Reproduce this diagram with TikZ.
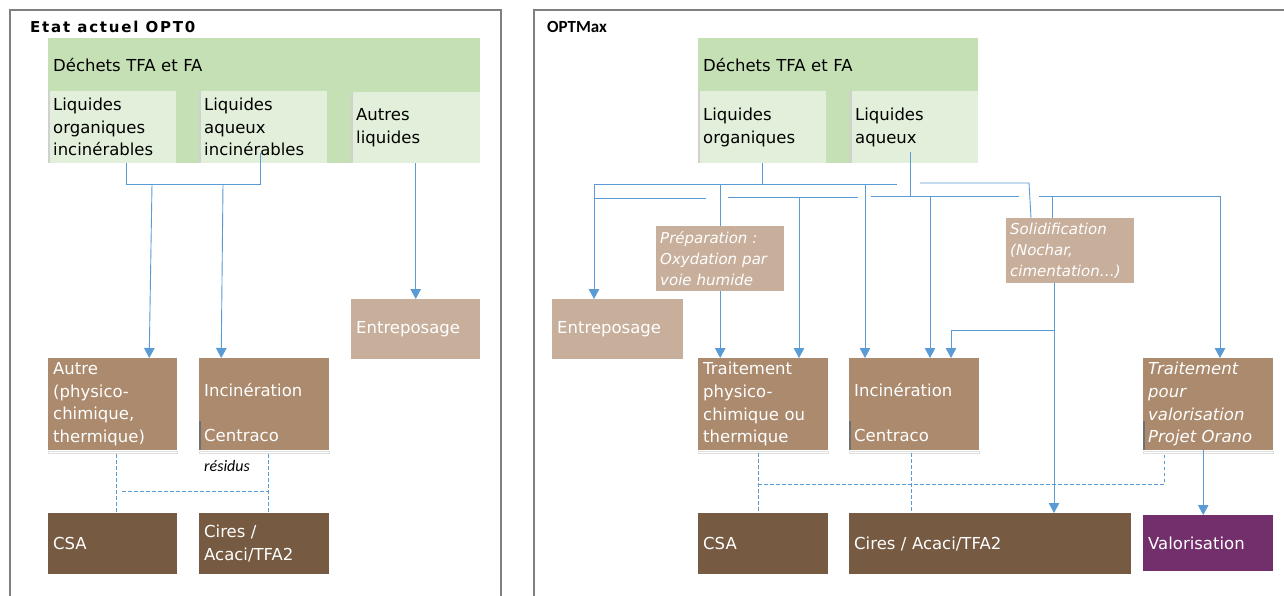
\documentclass[tikz,border=0pt]{standalone}
\usepackage{fontspec}
\setmainfont{DejaVu Sans}
\newfontfamily\carlito{Carlito}
\usetikzlibrary{arrows.meta,calc}

\definecolor{hdrgreen}{HTML}{C5E0B4}
\definecolor{subgreen}{HTML}{E2EFDA}
\definecolor{paletan}{HTML}{C8AF9C}
\definecolor{midbrown}{HTML}{AB8A6E}
\definecolor{darkbrown}{HTML}{765A42}
\definecolor{plum}{HTML}{722F6C}
\definecolor{linkblue}{HTML}{5B9BD5}
\definecolor{panelgray}{HTML}{808080}
\definecolor{stripegray}{HTML}{D0D0D0}
\definecolor{edgegray}{HTML}{707070}

\newcommand\bodysize{\fontsize{16.5}{22.6}\selectfont}
\newcommand\notesize{\fontsize{15}{21.3}\selectfont}

\tikzset{
  boxbase/.style n args={3}{rectangle, anchor=north west, inner xsep=5pt, inner ysep=0pt,
     minimum width=#1, minimum height=#2, text width=#3, align=left},
  hdrbox/.style n args={3}{boxbase={#1}{#2}{#3}, fill=hdrgreen, font=\bodysize},
  subbox/.style n args={3}{boxbase={#1}{#2}{#3}, fill=subgreen, font=\bodysize},
  tanbox/.style n args={3}{boxbase={#1}{#2}{#3}, fill=paletan, text=white, font=\bodysize},
  notebox/.style n args={3}{boxbase={#1}{#2}{#3}, fill=paletan, text=white, font=\notesize\itshape},
  midbox/.style n args={3}{boxbase={#1}{#2}{#3}, fill=midbrown, text=white, font=\bodysize},
  darkbox/.style n args={3}{boxbase={#1}{#2}{#3}, fill=darkbrown, text=white, font=\bodysize},
  plumbox/.style n args={3}{boxbase={#1}{#2}{#3}, fill=plum, text=white, font=\bodysize},
  conn/.style={draw=linkblue, line width=0.9pt},
  arr/.style={conn, -{Triangle[width=10.5pt,length=10pt]}},
  dashline/.style={draw=linkblue, line width=0.9pt, dash pattern=on 3.5pt off 2.5pt},
  panel/.style={draw=panelgray, line width=2pt},
  paneltitle/.style={anchor=base west, inner sep=0pt},
  shelf/.style={draw=black!12, line width=0.6pt, fill=white},
  lightstripe/.style={draw=stripegray, line width=2pt},
  darkstripe/.style={draw=edgegray, line width=2pt},
}

\begin{document}
\begin{tikzpicture}[x=1pt,y=-1pt]
\useasboundingbox (0,0) rectangle (1284,595);
\clip (0,0) rectangle (1284,595);
\fill[white] (0,0) rectangle (1284,595);

% the two panel frames
\draw[panel] (10,605) -- (10,10) -- (501,10) -- (501,605);
\draw[panel] (534,605) -- (534,10) -- (1290,10);
\node[paneltitle, font=\fontsize{15}{18}\selectfont\bfseries\addfontfeature{LetterSpace=12}] (titleL) at (30,32.7) {Etat actuel OPT0};
\node[paneltitle, font=\carlito\bfseries\fontsize{17}{20}\selectfont] (titleR) at (547,32.7) {OPTMax};

% ---------- left panel : current state ----------
\node[hdrbox={432pt}{53pt}{422pt}] (dechL) at (48,38) {Déchets TFA et FA};
\fill[hdrgreen] (48,91) rectangle (480,163);
\node[subbox={128pt}{72pt}{118pt}] (orgL) at (48,91) {Liquides\\organiques\\incinérables};
\node[subbox={128pt}{72pt}{118pt}] (aqL) at (199,91) {Liquides\\aqueux\\incinérables};
\node[subbox={129pt}{71pt}{119pt}] (autL) at (351,92) {Autres\\liquides};

\node[tanbox={129pt}{60pt}{119pt}] (entL) at (351,299) {Entreposage};
\node[midbox={129pt}{92pt}{119pt}] (autreL) at (48,358) {Autre\\(physico-\\chimique,\\thermique)};
\node[midbox={130pt}{92pt}{120pt}] (incL) at (199,358) {\rule{0pt}{38.5pt}Incinération\\[22.6pt]Centraco\rule[-8.3pt]{0pt}{0pt}};
\node[darkbox={129pt}{61pt}{119pt}] (csaL) at (48,513) {CSA};
\node[darkbox={130pt}{61pt}{120pt}] (ciresL) at (199,513) {Cires /\\Acaci/TFA2};
\node[anchor=base west, inner sep=0pt, font=\carlito\itshape\fontsize{16}{19}\selectfont] (residus) at (204,471.5) {résidus};

% ---------- right panel : OPTMax ----------
\node[hdrbox={280pt}{53pt}{270pt}] (dechR) at (698,38) {Déchets TFA et FA};
\fill[hdrgreen] (698,91) rectangle (978,163);
\node[subbox={128pt}{72pt}{118pt}] (orgR) at (698,91) {Liquides\\organiques};
\node[subbox={128pt}{72pt}{118pt}] (aqR) at (850,91) {Liquides\\aqueux};

\node[tanbox={131pt}{60pt}{121pt}] (entR) at (552,299) {Entreposage};
\node[notebox={128pt}{65pt}{120pt}, inner xsep=4pt] (prep) at (656,226) {Préparation :\\Oxydation par\\voie humide};
\node[notebox={128pt}{65pt}{120pt}, inner xsep=4pt] (solid) at (1006,218) {Solidification\\(Nochar,\\cimentation…)};

\node[midbox={130pt}{92pt}{120pt}] (traitR) at (698,358) {Traitement\\physico-\\chimique ou\\thermique};
\node[midbox={130pt}{92pt}{120pt}] (incR) at (849,358) {\rule{0pt}{38.5pt}Incinération\\[22.6pt]Centraco\rule[-8.3pt]{0pt}{0pt}};
\node[midbox={130pt}{92pt}{120pt}, font=\bodysize\itshape] (valT) at (1143,358) {Traitement\\pour\\valorisation\\Projet Orano};

\node[darkbox={130pt}{61pt}{120pt}] (csaR) at (698,513) {CSA};
\node[darkbox={282pt}{61pt}{272pt}] (ciresR) at (849,513) {Cires / Acaci/TFA2};
\node[plumbox={130pt}{56pt}{120pt}] (valo) at (1143,515) {Valorisation};

% box trims
\foreach \n in {orgL,aqL,autL,orgR,aqR}
  \draw[lightstripe] ($(\n.north west)+(1,0)$) -- ($(\n.south west)+(1,0)$);
\foreach \n in {incL,incR,valT}
  \draw[darkstripe] ($(\n.south west)+(1,-29)$) -- ($(\n.south west)+(1,0)$);
\foreach \n in {autreL,incL,traitR,incR,valT}
  \draw[shelf] ($(\n.south west)+(0,0.5)$) rectangle ($(\n.south east)+(0,3)$);

% ---------- left connectors ----------
\coordinate (jOrgL) at (126,184);
\coordinate (jAqL)  at (260,184);
\coordinate (aqLtap) at (260,153);
\coordinate (jL1) at (152,184);
\coordinate (jL2) at (223,184);
\draw[conn] (jOrgL |- orgL.south) -- (jOrgL) -- (jAqL) -- (aqLtap);
\draw[arr] (jL1) -- ($(autreL.north)+(36.5,0)$);
\draw[arr] (jL2) -- ($(incL.north)+(-43,0)$);
\draw[arr] (autL.south) -- (entL.north);

\coordinate (dL1) at (122,491);
\coordinate (dL2) at (268,491);
\draw[dashline] ($(autreL.south)+(3.5,4)$) -- ($(csaL.north)+(3.5,0)$);
\draw[dashline] ($(incL.south)+(4,4)$) -- ($(ciresL.north)+(4,0)$);
\draw[dashline] (dL1) -- (dL2);

% ---------- right connectors ----------
\coordinate (rA) at (594,184);
\coordinate (rB) at (897,184);
\coordinate (rC) at (594,198);
\coordinate (rD) at (706,198);
\coordinate (rE) at (728,197);
\coordinate (rF) at (858,197);
\coordinate (rG) at (871,196);
\coordinate (rH) at (1019,196);
\coordinate (rI) at (920,183);
\coordinate (rJ) at (1029,183);
\coordinate (rK) at (1039,196);
\coordinate (rL) at (1220,196);
\coordinate (rM) at (1054,330);
\coordinate (rN) at (951,330);
\coordinate (rP) at (799,197);
\coordinate (rQ) at (865,184);
\coordinate (rR) at (930,196);
\coordinate (rS) at (1052,196);
\coordinate (aqRtap) at (910,152);

\draw[conn] (orgR.south) -- (orgR.south |- rA);
\draw[conn] (rA) -- (rB);
\draw[conn] (rC) -- (rD);
\draw[conn] (rE) -- (rF);
\draw[conn] (aqRtap) -- (aqRtap |- rG);
\draw[conn] (rG) -- (rH);
\draw[conn] (rK) -- (rL);

\draw[arr] (rA) -- (rA |- entR.north);
\draw[conn] (prep.north |- rA) -- (prep.north);
\draw[arr] (prep.south) -- (prep.south |- traitR.north);
\draw[arr] (rP) -- (rP |- traitR.north);
\draw[arr] (rQ) -- (rQ |- incR.north);
\draw[arr] (rR) -- (rR |- incR.north);
\draw[conn] (rI) -- (rJ) -- ($(rJ |- solid.north)+(2,0)$);
\draw[conn] (rS) -- (rS |- solid.north);
\draw[arr] (rL) -- (rL |- valT.north);
\draw[arr] (rM |- solid.south) -- (rM |- ciresR.north);
\draw[arr] (rM) -- (rN) -- (rN |- incR.north);
\draw[arr] ($(valT.south)+(-5,0)$) -- ($(valo.north)+(-5,0)$);

\coordinate (dR1) at (758,484);
\coordinate (dR2) at (1164,484);
\draw[dashline] ($(dR1 |- traitR.south)+(0,3)$) -- (dR1 |- csaR.north);
\draw[dashline] (dR1) -- (dR2) -- ($(dR2 |- valT.south)+(0,3)$);
\draw[dashline] ($(incR.south)+(-3,3)$) -- ($(incR.south |- ciresR.north)+(-3,0)$);
\end{tikzpicture}
\end{document}
